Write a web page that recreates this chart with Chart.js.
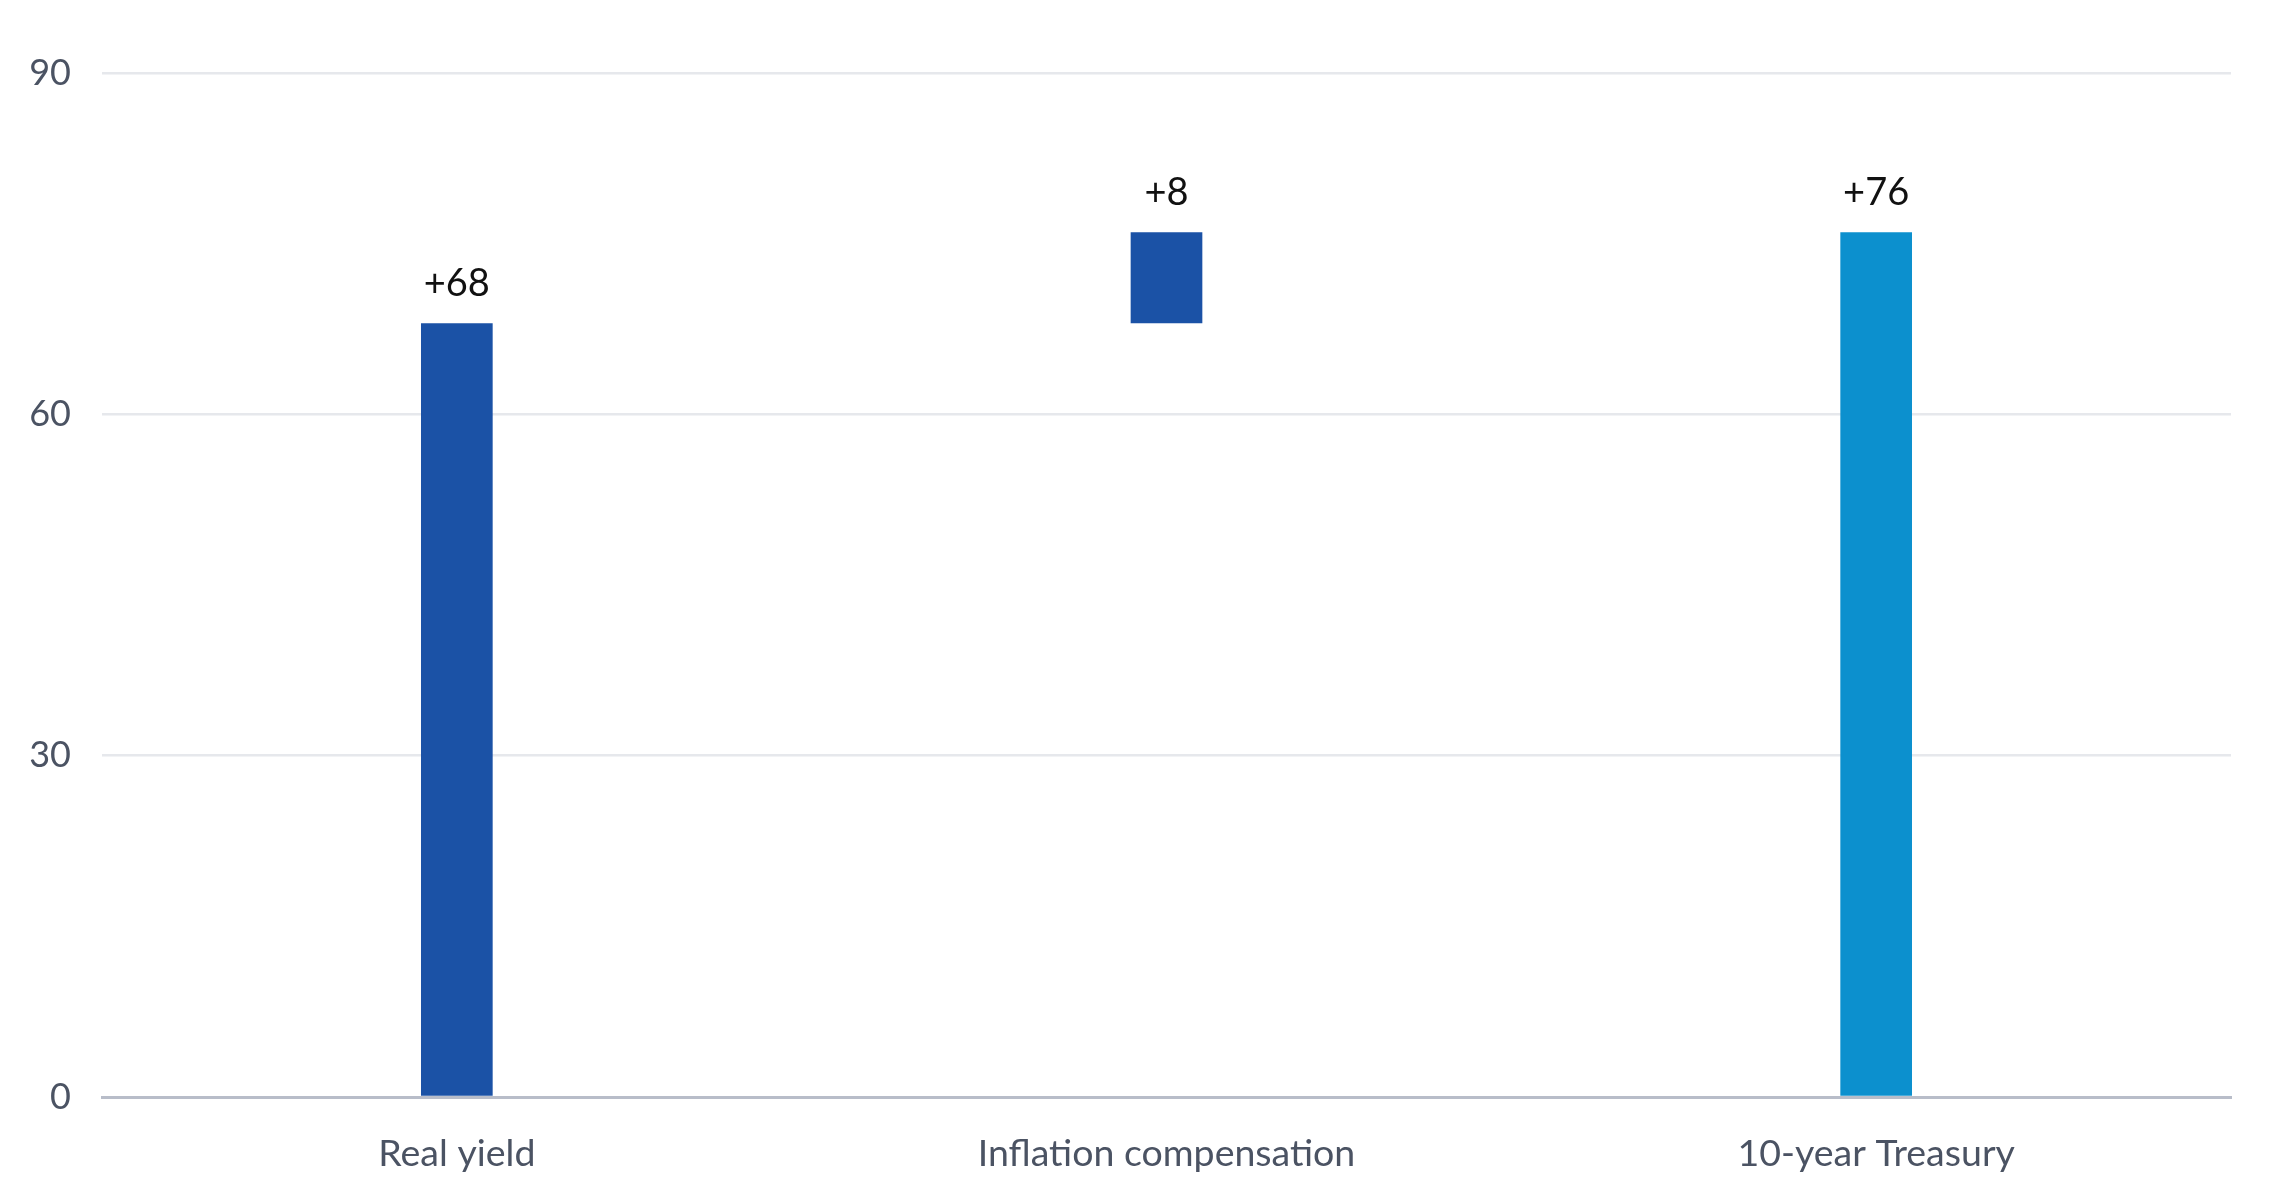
<!DOCTYPE html>
<html lang="en">
<head>
  <meta charset="UTF-8" />
  <title>Change in 10-year Treasury yield</title>
  <script src="https://cdn.jsdelivr.net/npm/chart.js"></script>
  <style>
    body {
      margin: 0;
      background: #ffffff;
    }
    .wrap {
      width: 2280px;
      height: 1200px;
    }
  </style>
</head>
<body>

<div class="wrap">
  <canvas id="yieldChart" width="2280" height="1200"></canvas>
</div>

<script>
// data (basis points)
const categories = ['Real yield', 'Inflation compensation', '10-year Treasury'];
const startValues = [0, 68, 0];
const changeValues = [68, 8, 76];
const barColors = ['#1b52a6', '#1b52a6', '#0c90ce'];
const yTicks = [0, 30, 60, 90];

// floating bars: [from, to]
const barData = categories.map((c, i) => [startValues[i], startValues[i] + changeValues[i]]);

// labels above each bar, e.g. "+68"
const topLabels = {
  id: 'topLabels',
  afterDatasetsDraw(chart) {
    const ctx = chart.ctx;
    const meta = chart.getDatasetMeta(0);
    ctx.save();
    ctx.font = '38px Lato';
    ctx.fillStyle = '#111111';
    ctx.textAlign = 'center';
    ctx.textBaseline = 'alphabetic';
    meta.data.forEach((bar, i) => {
      const v = changeValues[i];
      const txt = (v > 0 ? '+' : '') + v;
      ctx.fillText(txt, bar.x, bar.y - 27);
    });
    ctx.restore();
  }
};

new Chart(document.getElementById('yieldChart'), {
  type: 'bar',
  data: {
    labels: categories,
    datasets: [{
      data: barData,
      backgroundColor: barColors,
      borderWidth: 0,
      borderSkipped: false,
      barPercentage: 0.101,
      categoryPercentage: 1
    }]
  },
  options: {
    responsive: false,
    animation: false,
    devicePixelRatio: 1,
    layout: {
      padding: { top: 73, right: 49, left: 0, bottom: 0 }
    },
    plugins: {
      legend: { display: false },
      tooltip: { enabled: false }
    },
    scales: {
      x: {
        grid: { display: false, drawTicks: false },
        border: { display: true, color: '#b8bdc9', width: 3 },
        ticks: {
          color: '#4b5363',
          font: { family: 'Lato', size: 37.5 },
          padding: 34
        },
        afterFit(scale) { scale.height = 103; }
      },
      y: {
        min: 0,
        max: 90,
        afterBuildTicks(scale) {
          scale.ticks = yTicks.map(v => ({ value: v }));
        },
        grid: {
          drawTicks: false,
          lineWidth: 2.5,
          color: (c) => c.tick && c.tick.value === 0 ? 'rgba(0,0,0,0)' : '#e6e8ec'
        },
        border: { display: false },
        ticks: {
          color: '#4b5363',
          font: { family: 'Lato', size: 36 },
          padding: 31
        },
        afterFit(scale) { scale.width = 102; }
      }
    }
  },
  plugins: [topLabels]
});
</script>
</body>
</html>
